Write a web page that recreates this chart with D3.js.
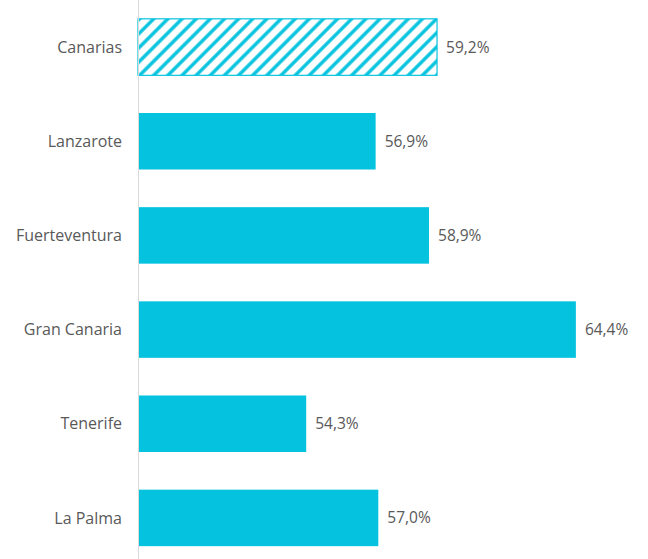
<!DOCTYPE html>
<html>
<head>
<meta charset="utf-8">
<script src="https://cdn.jsdelivr.net/npm/d3@7"></script>
<style>
  body { margin: 0; background: #fff; }
  text { font-family: "Open Sans", sans-serif; fill: #595959; }
</style>
</head>
<body>
<svg id="chart" width="648" height="559"></svg>
<script>
// data
const islands = ["Canarias", "Lanzarote", "Fuerteventura", "Gran Canaria", "Tenerife", "La Palma"];
const values = [59.2, 56.9, 58.9, 64.4, 54.3, 57.0];
const hatched = ["Canarias"];

const svg = d3.select("#chart"),
    width = +svg.attr("width"),
    height = +svg.attr("height"),
    axisX = 138;

const barColor = "#05c3de";

// hatch pattern for the total bar
const defs = svg.append("defs");
const pat = defs.append("pattern")
    .attr("id", "hatch")
    .attr("patternUnits", "userSpaceOnUse")
    .attr("width", 10)
    .attr("height", 10)
    .attr("patternTransform", "rotate(45)");
pat.append("rect").attr("width", 10).attr("height", 10).attr("fill", "#fff");
pat.append("line")
    .attr("x1", 2).attr("y1", 0).attr("x2", 2).attr("y2", 10)
    .attr("stroke", barColor)
    .attr("stroke-width", 3.4);

const x = d3.scaleLinear()
    .domain([48, 66])
    .range([axisX, axisX + 18 * 26.7]);

const y = d3.scaleBand()
    .domain(islands)
    .range([0, 565])
    .paddingInner(0.4)
    .paddingOuter(0.2);

const rows = islands.map((name, i) => ({ name, value: values[i] }));

svg.append("g")
    .selectAll("rect")
    .data(rows)
    .join("rect")
    .attr("x", x(48))
    .attr("y", d => y(d.name))
    .attr("width", d => x(d.value) - x(48))
    .attr("height", y.bandwidth())
    .attr("fill", d => hatched.includes(d.name) ? "url(#hatch)" : barColor)
    .attr("stroke", d => hatched.includes(d.name) ? barColor : "none")
    .attr("stroke-width", 1.2);

// axis line
svg.append("line")
    .attr("x1", axisX + 0.5).attr("x2", axisX + 0.5)
    .attr("y1", 0).attr("y2", height)
    .attr("stroke", "#d9d9d9")
    .attr("stroke-width", 1);

// category labels
svg.append("g")
    .selectAll("text")
    .data(rows)
    .join("text")
    .attr("x", axisX - 16)
    .attr("y", d => y(d.name) + y.bandwidth() / 2)
    .attr("dy", "0.35em")
    .attr("text-anchor", "end")
    .style("font-size", "16px")
    .text(d => d.name);

// value labels
const fmt = v => v.toFixed(1).replace(".", ",") + "%";
svg.append("g")
    .selectAll("text")
    .data(rows)
    .join("text")
    .attr("x", d => x(d.value) + 9)
    .attr("y", d => y(d.name) + y.bandwidth() / 2)
    .attr("dy", "0.35em")
    .style("font-size", "15.5px")
    .text(d => fmt(d.value));
</script>
</body>
</html>
